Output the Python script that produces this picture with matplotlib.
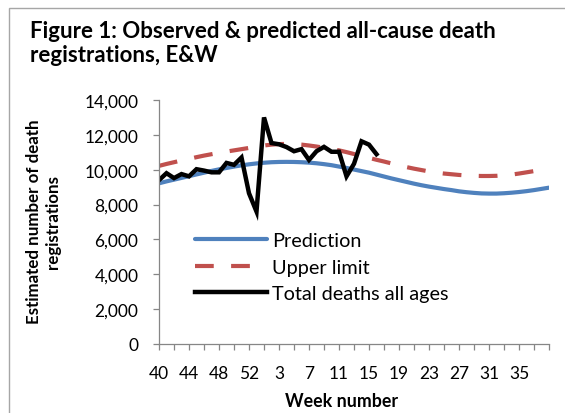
import matplotlib
matplotlib.use('Agg')
import matplotlib.pyplot as plt
from matplotlib.patches import Rectangle
from matplotlib.ticker import FuncFormatter
import numpy as np

# ---- data ----
weeks = list(range(40, 54)) + list(range(1, 40))

prediction = [9220, 9330, 9430, 9530, 9630, 9730, 9830, 9930, 10020, 10100,
              10180, 10250, 10310, 10360, 10400, 10430, 10445, 10450, 10445, 10430,
              10405, 10370, 10320, 10260, 10180, 10100, 10010, 9920, 9830, 9720,
              9610, 9500, 9400, 9300, 9200, 9110, 9030, 8960, 8890, 8830,
              8760, 8710, 8670, 8640, 8630, 8630, 8650, 8680, 8720, 8770,
              8830, 8900, 8970]

upper_limit = [10220, 10330, 10430, 10530, 10620, 10720, 10810, 10890, 10970, 11040,
               11110, 11180, 11250, 11320, 11390, 11440, 11470, 11480, 11470, 11440,
               11390, 11330, 11260, 11190, 11110, 11010, 10900, 10790, 10680, 10570,
               10470, 10360, 10250, 10150, 10060, 9980, 9900, 9830, 9780, 9740,
               9700, 9670, 9650, 9640, 9640, 9650, 9680, 9720, 9780, 9850,
               9920, 9990, 10060]

total_deaths = [9400, 9800, 9520, 9750, 9620, 10030, 9950, 9850, 9850, 10390,
                10280, 10700, 8650, 7600, 13000, 11530, 11460, 11300, 11060, 11180,
                10560, 11060, 11310, 11030, 11030, 9620, 10340, 11630, 11440, 10890]

series_labels = ['Prediction', 'Upper limit', 'Total deaths all ages']
title = 'Figure 1: Observed & predicted all-cause death\nregistrations, E&W'
y_label = 'Estimated number of death\nregistrations'
x_label = 'Week number'

# ---- style ----
plt.rcParams['font.family'] = ['Lato', 'DejaVu Sans']
plt.rcParams['lines.scale_dashes'] = False

W, H = 565, 414
fig = plt.figure(figsize=(W / 100, H / 100), dpi=100)
ax = fig.add_axes([159 / W, (H - 345) / H, (549 - 159) / W, (345 - 101) / H])

x = np.arange(len(weeks))
ax.plot(x, prediction, color='#4F81BD', lw=3, solid_capstyle='round',
        label=series_labels[0])
ax.plot(x, upper_limit, color='#C0504D', lw=3, linestyle=(0, (13.5, 12.5)),
        dash_capstyle='butt', label=series_labels[1])
ax.plot(x[:len(total_deaths)], total_deaths, color='black', lw=3.2,
        solid_joinstyle='miter', label=series_labels[2])

ax.set_xlim(0, len(weeks) - 1)
ax.set_ylim(0, 14000)
ax.set_yticks(np.arange(0, 14001, 2000))
ax.yaxis.set_major_formatter(FuncFormatter(lambda v, p: f'{int(v):,}'))

tick_pos = x[::2]
tick_lab = [str(weeks[i]) if (i % 4 == 0 and i < len(weeks) - 1) else '' for i in tick_pos]
ax.set_xticks(tick_pos)
ax.set_xticklabels(tick_lab)

for s in ['top', 'right']:
    ax.spines[s].set_visible(False)
for s in ['left', 'bottom']:
    ax.spines[s].set_color('#868686')
    ax.spines[s].set_linewidth(0.9)
ax.tick_params(axis='both', colors='#868686', length=4.3, width=0.9,
               labelcolor='black', labelsize=12.5)
ax.tick_params(axis='x', pad=10.5)
ax.tick_params(axis='y', pad=10.5)

fig.text(342 / W, 1 - 402 / H, x_label, ha='center', va='center',
         fontsize=12.8, fontweight='bold')
fig.text(43.5 / W, 1 - 222 / H, y_label, ha='center', va='center',
         rotation=90, multialignment='center', fontsize=12.2,
         fontweight='bold', linespacing=1.3)

leg = ax.legend(loc='upper left', bbox_to_anchor=(195 / W, 1 - 233 / H),
                bbox_transform=fig.transFigure, frameon=False, fontsize=14.3,
                handlelength=3.6, handletextpad=0.3, labelspacing=0.48,
                borderpad=0, borderaxespad=0)

fig.text(30 / W, 1 - 21 / H, title, ha='left', va='top', fontsize=16,
         fontweight='bold', linespacing=1.2)

fig.add_artist(Rectangle((8.5 / W, -0.05), 1.2, 1 - 8.5 / H + 0.05,
                         transform=fig.transFigure, fill=False,
                         ec='#A6A6A6', lw=1))

fig.savefig('out.png', dpi=100)
